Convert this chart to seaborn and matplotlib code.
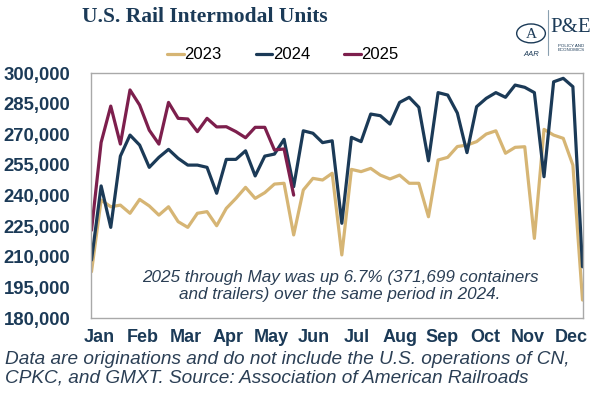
import numpy as np
import pandas as pd
import matplotlib
matplotlib.use('Agg')
import matplotlib.pyplot as plt
import seaborn as sns
from matplotlib.patches import Circle

# weekly intermodal units, thousands
units_2023 = [202.7, 237.8, 234.5, 235.3, 231.3, 238.1, 234.9, 230.4, 234.5, 227.2,
              224.4, 231.3, 232.1, 225.2, 233.7, 238.6, 244.0, 238.6, 241.4, 245.6,
              246.0, 220.7, 242.7, 248.4, 247.6, 250.9, 210.9, 252.8, 251.7, 253.3,
              250.0, 248.1, 250.0, 246.0, 246.0, 229.6, 257.4, 258.7, 264.0, 264.7,
              266.4, 270.1, 271.7, 260.7, 263.6, 263.9, 219.0, 272.4, 269.6, 268.0,
              254.9, 188.8]
units_2024 = [208.4, 244.7, 224.4, 259.3, 269.6, 264.7, 253.8, 258.7, 262.6, 258.2,
              254.9, 254.9, 253.8, 241.1, 257.7, 257.7, 261.9, 249.6, 259.3, 260.3,
              267.5, 244.3, 271.7, 270.5, 265.9, 266.8, 226.4, 268.5, 266.4, 279.9,
              279.1, 275.0, 285.6, 288.1, 283.2, 257.0, 290.4, 289.2, 280.4, 261.0,
              283.5, 287.6, 290.4, 288.1, 294.1, 293.0, 290.4, 249.2, 295.7, 297.4,
              293.3, 205.1]
units_2025 = [223.0, 266.0, 283.8, 265.2, 291.7, 284.3, 272.0, 265.2, 285.6, 277.8,
              277.5, 271.3, 277.8, 273.6, 273.7, 271.3, 268.3, 273.4, 273.4, 262.3,
              262.8, 240.2]

months = ['Jan', 'Feb', 'Mar', 'Apr', 'May', 'Jun', 'Jul', 'Aug', 'Sep', 'Oct', 'Nov', 'Dec']
y_ticks = list(range(180000, 300001, 15000))

navy = '#1b3a57'
colors = {'2023': '#d6b574', '2024': '#1b3a57', '2025': '#7d1f4d'}

frames = []
for yr, vals in [('2023', units_2023), ('2024', units_2024), ('2025', units_2025)]:
    frames.append(pd.DataFrame({'week': np.arange(len(vals)),
                                'units': np.array(vals) * 1000,
                                'year': yr}))
df = pd.concat(frames, ignore_index=True)

sns.set_style('white')
plt.rcParams['font.family'] = ['Liberation Sans', 'DejaVu Sans']

fig = plt.figure(figsize=(5.98, 3.93), dpi=100)
ax = fig.add_axes([0.1522, 0.1908, 0.8227, 0.6234])

sns.lineplot(data=df, x='week', y='units', hue='year', palette=colors,
             linewidth=2.3, ax=ax, legend=False)

ax.set_xlim(-0.05, 51.05)
ax.set_ylim(180000, 300000)
ax.set_xlabel('')
ax.set_ylabel('')
ax.set_yticks(y_ticks)
ax.set_yticklabels([f'{v:,}' for v in y_ticks], fontsize=13.3, fontweight='bold', color=navy)
ax.set_xticks(np.linspace(0.85, 49.8, 12))
ax.set_xticklabels(months, fontsize=13, fontweight='bold', color=navy)
ax.tick_params(axis='y', length=0, pad=15)
ax.tick_params(axis='x', length=0, pad=8)
for s in ax.spines.values():
    s.set_color('#a9a9a9')
    s.set_linewidth(1.0)

ax.text(0.506, 0.13, '2025 through May was up 6.7% (371,699 containers\nand trailers) over the same period in 2024.',
        transform=ax.transAxes, ha='center', va='center', fontsize=12.3,
        style='italic', color='#2b3f55', linespacing=1.2)

# title and legend
fig.text(0.137, 0.958, 'U.S. Rail Intermodal Units', family='Liberation Serif',
         fontsize=15.5, fontweight='bold', color=navy, va='center', ha='left')

x = 0.28
for yr in ['2023', '2024', '2025']:
    fig.add_artist(plt.Line2D([x, x + 0.027], [0.862, 0.862], color=colors[yr],
                              linewidth=2.3, transform=fig.transFigure))
    fig.text(x + 0.028, 0.862, yr, fontsize=12, color='black', va='center', ha='left')
    x += 0.148

# footnote
fig.text(0.008, 0.062, 'Data are originations and do not include the U.S. operations of CN,\n'
         'CPKC, and GMXT. Source: Association of American Railroads',
         fontsize=13.7, style='italic', color='#2b3f55', va='center', ha='left', linespacing=1.12)

# logo
fig.add_artist(Circle((0.888, 0.915), 0.024, transform=fig.transFigure, fill=False,
                      edgecolor=navy, linewidth=1.0))
fig.text(0.888, 0.912, 'A', fontsize=11, color=navy, ha='center', va='center', family='Liberation Serif')
fig.text(0.888, 0.862, 'AAR', fontsize=5.5, color=navy, ha='center', va='center', style='italic')
fig.add_artist(plt.Line2D([0.916, 0.916], [0.86, 0.975], color='#8aa0b0', linewidth=0.8,
                          transform=fig.transFigure))
fig.text(0.955, 0.93, 'P&E', fontsize=15, color=navy, ha='center', va='center', family='Liberation Serif')
fig.text(0.955, 0.878, 'POLICY AND\nECONOMICS', fontsize=3.2, color=navy, ha='center', va='center',
         linespacing=1.0)

fig.savefig('out.png', dpi=100)
